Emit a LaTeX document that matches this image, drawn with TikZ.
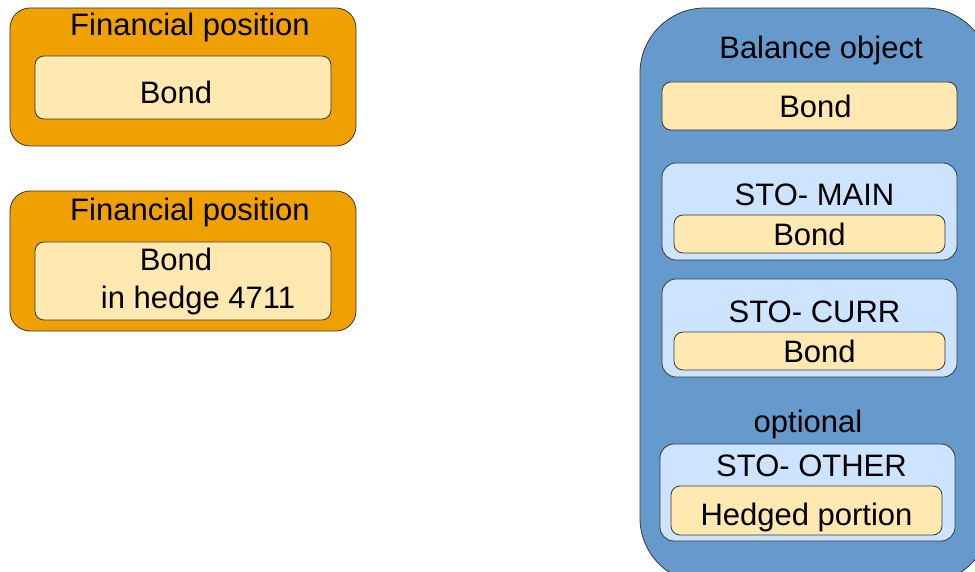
\documentclass[tikz,border=0pt]{standalone}
\usepackage{fontspec}
\setmainfont{Liberation Sans}
\usepackage{tikz}
\usetikzlibrary{positioning}

\definecolor{posorange}{RGB}{240,160,0}
\definecolor{bondyellow}{RGB}{255,233,176}
\definecolor{balblue}{RGB}{102,153,204}
\definecolor{stoblue}{RGB}{204,228,255}
\definecolor{edgegray}{RGB}{55,55,55}

\begin{document}
\begin{tikzpicture}[
    x=1pt, y=-1pt,
    every node/.style={font=\fontsize{31}{38}\selectfont, inner sep=0pt},
    posbox/.style={draw=edgegray, line width=0.8pt, fill=posorange, rounded corners=20pt, minimum width=346pt},
    balbox/.style={draw=edgegray, line width=0.8pt, fill=balblue, rounded corners=65pt, minimum width=350pt, minimum height=575pt},
    stobox/.style={draw=edgegray, line width=0.8pt, fill=stoblue, rounded corners=14pt, minimum width=295pt, minimum height=97pt},
    bondbox/.style={draw=edgegray, line width=0.8pt, fill=bondyellow, rounded corners=9pt, align=center}
]
\clip (0,0) rectangle (975,572);

% financial positions
\node[posbox, minimum height=138pt] (fp1) at (183,77) {};
\node (fp1t) at (190,27) {Financial position};
\node[bondbox, minimum width=296pt, minimum height=63pt, text height=32pt] (fp1b) at (183,87.5) {\hspace*{-14pt}Bond};

\node[posbox, minimum height=140pt] (fp2) at (183,261) {};
\node (fp2t) at (190,212) {Financial position};
\node[bondbox, minimum width=296pt, minimum height=78pt] (fp2b) at (183,281) {\hspace*{-14pt}Bond\\\hspace*{30pt}in hedge 4711};

% balance object
\node[balbox] (bal) at (815,295.5) {};
\node (balt) at (821,50) {Balance object};
\node[bondbox, minimum width=295pt, minimum height=48pt] (balb) at (809.5,106) {\hspace*{12pt}Bond};

\node[stobox] (main) at (809.5,211.5) {};
\node[bondbox, minimum width=271pt, minimum height=38pt] (mainb) at (809.5,234) {Bond};
\node[above=9pt of mainb.north, xshift=5pt, anchor=south] (maint) {STO- MAIN};

\node[stobox, minimum height=98pt] (curr) at (809.5,328) {};
\node[bondbox, minimum width=271pt, minimum height=38pt] (currb) at (809.5,351) {\hspace*{20pt}Bond};
\node[above=9pt of currb.north, xshift=5pt, anchor=south] (currt) {STO- CURR};

\node (opt) at (808,424) {optional};
\node[stobox] (other) at (807.5,492.5) {};
\node[bondbox, minimum width=271pt, minimum height=49pt, text height=36pt] (otherb) at (806.5,510.5) {Hedged portion};
\node[above=9pt of otherb.north, xshift=5pt, anchor=south] (othert) {STO- OTHER};
\end{tikzpicture}
\end{document}
